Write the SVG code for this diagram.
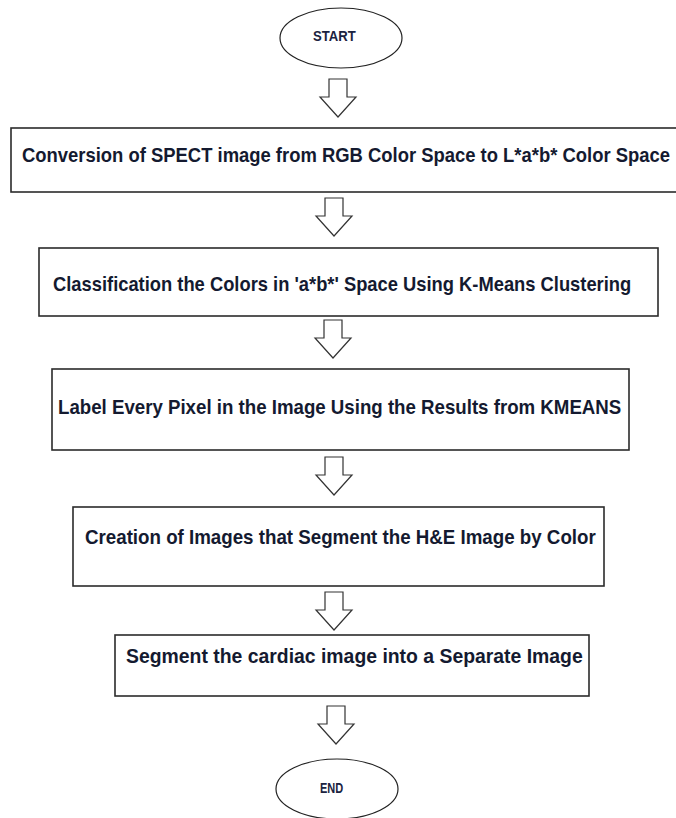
<svg xmlns="http://www.w3.org/2000/svg" width="676" height="818" viewBox="0 0 676 818">
  <style>
    .box { fill: #ffffff; stroke: #2b2b2b; stroke-width: 1.6; }
    .term { fill: #ffffff; stroke: #222222; stroke-width: 1.2; }
    .arrow { fill: #ffffff; stroke: #333333; stroke-width: 1.2; stroke-linejoin: miter; }
    .label { font-family: "Liberation Sans Narrow", "Arial Narrow", "Liberation Sans", sans-serif; font-weight: bold; font-size: 21px; fill: #141a30; }
    .tlabel { font-family: "Liberation Sans Narrow", "Arial Narrow", "Liberation Sans", sans-serif; font-weight: bold; font-size: 15px; fill: #1b2340; }
  </style>
  <defs>
    <!-- hollow block arrow, top at y=0, tip at y=38 -->
    <path id="blockArrow" d="M -9 0 L 9 0 L 9 18 L 18 18 L 0 38 L -18 18 L -9 18 Z"/>
  </defs>
  <rect width="676" height="818" fill="#ffffff"/>

  <g id="connectors">
    <use href="#blockArrow" class="arrow" transform="translate(338,79)"/>
    <use href="#blockArrow" class="arrow" transform="translate(334,198)"/>
    <use href="#blockArrow" class="arrow" transform="translate(333,320)"/>
    <use href="#blockArrow" class="arrow" transform="translate(334,457)"/>
    <use href="#blockArrow" class="arrow" transform="translate(334,592)"/>
    <use href="#blockArrow" class="arrow" transform="translate(336,706)"/>
  </g>

  <!-- labels use a condensed look: horizontal scale 0.75 -->
  <g id="start">
    <ellipse class="term" cx="341" cy="38" rx="61" ry="30"/>
    <text class="tlabel" transform="translate(313,41) scale(0.75,1)" textLength="57" lengthAdjust="spacingAndGlyphs">START</text>
  </g>

  <g id="convert">
    <rect class="box" x="11" y="128" width="670" height="64"/>
    <text class="label" transform="translate(22,162) scale(0.75,1)" textLength="864" lengthAdjust="spacingAndGlyphs">Conversion of SPECT image from RGB Color Space to L*a*b* Color Space</text>
  </g>

  <g id="classify">
    <rect class="box" x="39" y="248" width="619" height="68"/>
    <text class="label" transform="translate(53,291) scale(0.75,1)" textLength="771" lengthAdjust="spacingAndGlyphs">Classification the Colors in 'a*b*' Space Using K-Means Clustering</text>
  </g>

  <g id="label-pixels">
    <rect class="box" x="52" y="369" width="577" height="81"/>
    <text class="label" transform="translate(58,414) scale(0.75,1)" textLength="751" lengthAdjust="spacingAndGlyphs">Label Every Pixel in the Image Using the Results from KMEANS</text>
  </g>

  <g id="create-images">
    <rect class="box" x="73" y="507" width="531" height="79"/>
    <text class="label" transform="translate(85,544) scale(0.75,1)" textLength="681" lengthAdjust="spacingAndGlyphs">Creation of Images that Segment the H&amp;E Image by Color</text>
  </g>

  <g id="segment">
    <rect class="box" x="115" y="635" width="474" height="61"/>
    <text class="label" transform="translate(126,663) scale(0.75,1)" textLength="609" lengthAdjust="spacingAndGlyphs">Segment the cardiac image into a Separate Image</text>
  </g>

  <g id="end">
    <ellipse class="term" cx="337" cy="789" rx="61" ry="30"/>
    <text class="tlabel" transform="translate(320,793) scale(0.75,1)" textLength="31" lengthAdjust="spacingAndGlyphs">END</text>
  </g>
</svg>
